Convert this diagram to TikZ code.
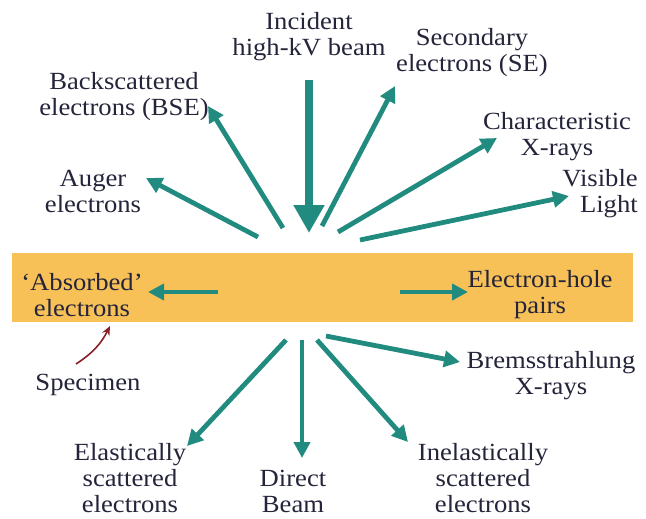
\documentclass[tikz,border=0pt]{standalone}
\usepackage{fontspec}
\setmainfont{Liberation Serif}[FakeStretch=1.08]
\usepackage{tikz}
\usetikzlibrary{arrows.meta}
\usetikzlibrary{positioning}
\definecolor{beam}	{RGB}	{34,139,128}
\definecolor{sample}	{RGB}	{248,193,88}
\definecolor{pointer}	{RGB}	{140,30,40}
\definecolor{ink}	{RGB}	{36,36,58}

\begin{document}
\begin{tikzpicture}[x=0.75pt, y=-0.75pt,
    every node/.append style={align=center, inner sep=0pt, text=ink,
                              font=\fontsize{18.5}{19.5}\selectfont},
    signal/.style={draw=beam, line width=3.6pt, -{Triangle[length=12pt,width=12pt,fill=beam]}},
    incoming/.style={draw=beam, line width=6pt, -{Triangle[length=21pt,width=22pt,fill=beam]}}
  ]
  \useasboundingbox (0,0) rectangle (646,518);

  \node (specimen) at (322.5,287.5) [fill=sample, minimum width=465.75pt, minimum height=51.75pt] {};

  % labels above the specimen
  \node (incident)  at (309,37)  {Incident\\high-kV beam};
  \node (secondary) at (472,53)  {Secondary\\electrons (SE)};
  \node (bse)       at (124,97)  {Backscattered\\electrons (BSE)};
  \node (charx)     at (557,137) {Characteristic\\X-rays};
  \node (light)     at (638,194) [anchor=east, align=right] {Visible\\Light};
  \node (auger)     at (93,191)  {Auger\\electrons};
  % labels inside the specimen
  \node (absorbed)  at (82,295)  {`Absorbed'\\electrons};
  \node (ehpairs)   at (540,295) {Electron-hole\\pairs};
  % labels below the specimen
  \node (brems)     at (551,376) {Bremsstrahlung\\X-rays};
  \node (spec)      at (88,385)  {Specimen};
  \node (elastic)   at (130,478) {Elastically\\scattered\\electrons};
  \node (direct)    at (293,491) {Direct\\Beam};
  \node (inelastic) at (483,478) {Inelastically\\scattered\\electrons};

  % arrow ends
  \coordinate (inc tail) at (309,80);   \coordinate (inc tip) at (309,233);
  \coordinate (aug tail) at (258,237);  \coordinate (aug tip) at (146,178);
  \coordinate (bse tail) at (283,228);  \coordinate (bse tip) at (208,106);
  \coordinate (se tail)  at (322,226);  \coordinate (se tip)  at (395,86);
  \coordinate (cx tail)  at (338,232);  \coordinate (cx tip)  at (497,138);
  \coordinate (vl tail)  at (360,240);  \coordinate (vl tip)  at (569,196);
  \coordinate (ab tail)  at (218,292);  \coordinate (ab tip)  at (148,292);
  \coordinate (eh tail)  at (400,292);  \coordinate (eh tip)  at (468,292);
  \coordinate (br tail)  at (326,336);  \coordinate (br tip)  at (460,362);
  \coordinate (el tail)  at (286,340);  \coordinate (el tip)  at (187,446);
  \coordinate (db tail)  at (302,340);  \coordinate (db tip)  at (302,458);
  \coordinate (in tail)  at (317,340);  \coordinate (in tip)  at (408,442);
  \coordinate (sp tail)  at (76,364);   \coordinate (sp tip)  at (110,326);

  \draw[incoming] (inc tail) -- (inc tip);
  \draw[signal] (aug tail) -- (aug tip);
  \draw[signal] (bse tail) -- (bse tip);
  \draw[signal] (se tail) -- (se tip);
  \draw[signal] (cx tail) -- (cx tip);
  \draw[signal] (vl tail) -- (vl tip);
  \draw[signal] (ab tail) -- (ab tip);
  \draw[signal] (eh tail) -- (eh tip);
  \draw[signal] (br tail) -- (br tip);
  \draw[signal] (el tail) -- (el tip);
  \draw[signal] (db tail) -- (db tip);
  \draw[signal] (in tail) -- (in tip);
  \draw[pointer, line width=1.2pt, -{Stealth[length=7pt,width=6pt]}] (sp tail) to[bend right=15] (sp tip);
\end{tikzpicture}
\end{document}
